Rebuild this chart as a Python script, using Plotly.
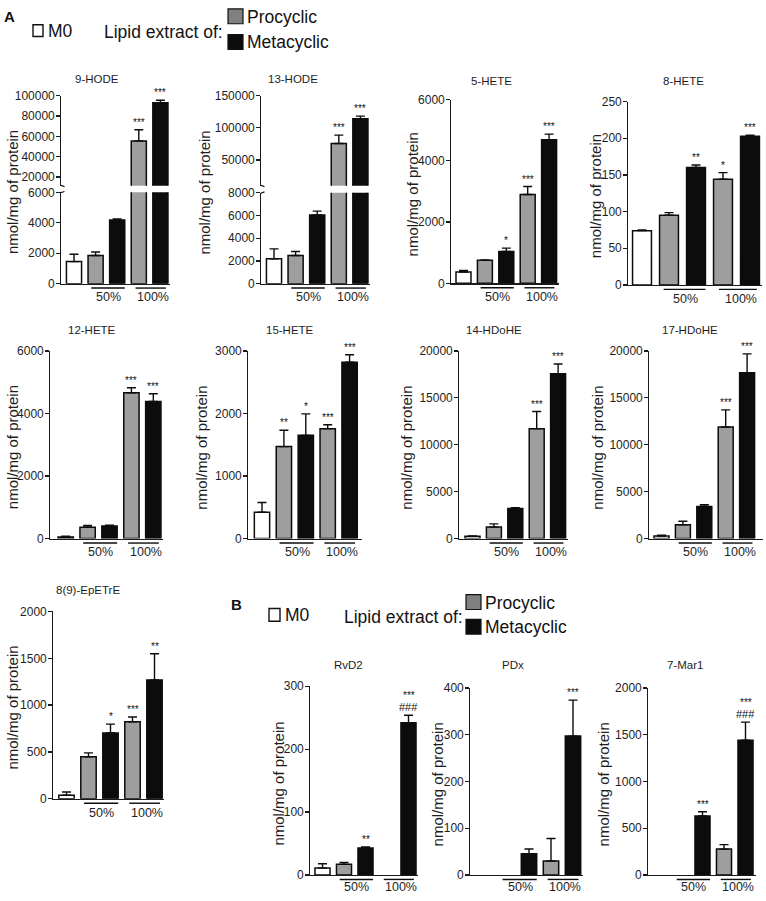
import plotly.graph_objects as go

W, H = 766, 901
FONT = "Liberation Sans, Arial, sans-serif"

# ---------------- data ----------------
categories = ["M0", "Procyclic 50%", "Metacyclic 50%", "Procyclic 100%", "Metacyclic 100%"]
bar_colors = ["white", "#9e9e9e", "#0c0c0c", "#9e9e9e", "#0c0c0c"]
group_labels = ["50%", "100%"]
y_title = "nmol/mg of protein"

hode9_mean = [1450, 1850, 4180, 55500, 93000]
hode9_err = [480, 230, 70, 11000, 2500]
hode9_sig = ["", "", "", "***", "***"]

hode13_mean = [2190, 2480, 6050, 75500, 114000]
hode13_err = [870, 350, 330, 13000, 4000]
hode13_sig = ["", "", "", "***", "***"]

hete5_mean = [370, 750, 1040, 2900, 4690]
hete5_err = [50, 10, 110, 260, 180]
hete5_sig = ["", "", "*", "***", "***"]

hete8_mean = [74, 95, 160, 144, 202.5]
hete8_err = [0.8, 3.5, 3.5, 9, 1.5]
hete8_sig = ["", "", "**", "*", "***"]

hete12_mean = [50, 366, 400, 4660, 4380]
hete12_err = [25, 55, 25, 160, 250]
hete12_sig = ["", "", "", "***", "***"]

hete15_mean = [420, 1470, 1650, 1757, 2817]
hete15_err = [157, 262, 343, 63, 120]
hete15_sig = ["", "**", "*", "***", "***"]

hdohe14_mean = [245, 1224, 3217, 11715, 17555]
hdohe14_err = [35, 350, 70, 1820, 1050]
hdohe14_sig = ["", "", "", "***", "***"]

hdohe17_mean = [280, 1469, 3427, 11890, 17660]
hdohe17_err = [70, 384, 175, 1820, 2025]
hdohe17_sig = ["", "", "", "***", "***"]

epetre_mean = [38, 448, 703, 822, 1269]
epetre_err = [35, 42, 94, 52, 280]
epetre_sig = ["", "", "*", "***", "**"]

rvd2_mean = [11, 17, 43, None, 242]
rvd2_err = [7, 3, 1.5, None, 12]
rvd2_sig = ["", "", "**", "", "***"]
rvd2_sig2 = ["", "", "", "", "###"]

pdx_mean = [None, None, 45.6, 30, 297]
pdx_err = [None, None, 10, 48, 77]
pdx_sig = ["", "", "", "", "***"]
pdx_sig2 = ["", "", "", "", ""]

mar1_mean = [None, None, 632, 277, 1440]
mar1_err = [None, None, 45, 48, 195]
mar1_sig = ["", "", "***", "", "***"]
mar1_sig2 = ["", "", "", "", "###"]

# ---------------- geometry (pixels) ----------------
def PX(x):
    return x / W


def PY(y):
    return 1 - y / H


panels = [
    dict(name="9-HODE", mean=hode9_mean, err=hode9_err, sig=hode9_sig,
         ax=61, c0=74, sp=21.6, right=170, ybot=281, ytop=188.3, ymax=6000,
         ticks=[0, 2000, 4000, 6000],
         brk=dict(bot=181.5, top=90, lo=11490, hi=100000, ticks=[20000, 40000, 60000, 80000, 100000]),
         tx=97, ty=73, ytx=12.5),
    dict(name="13-HODE", mean=hode13_mean, err=hode13_err, sig=hode13_sig,
         ax=261, c0=274, sp=21.6, right=370, ybot=281, ytop=188.7, ymax=8000,
         ticks=[0, 2000, 4000, 6000, 8000],
         brk=dict(bot=181.5, top=90, lo=9900, hi=150000, ticks=[50000, 100000, 150000]),
         tx=293, ty=73, ytx=205),
    dict(name="5-HETE", mean=hete5_mean, err=hete5_err, sig=hete5_sig,
         ax=451, c0=463.5, sp=21.4, right=559, ybot=280.7, ytop=94, ymax=6000,
         ticks=[0, 2000, 4000, 6000], tx=491, ty=75, ytx=412),
    dict(name="8-HETE", mean=hete8_mean, err=hete8_err, sig=hete8_sig,
         ax=628, c0=642, sp=27, right=762, ybot=282.3, ytop=96, ymax=250,
         ticks=[0, 50, 100, 150, 200, 250], tx=683, ty=75, ytx=595),
    dict(name="12-HETE", mean=hete12_mean, err=hete12_err, sig=hete12_sig,
         ax=50, c0=65.7, sp=21.9, right=163, ybot=540, ytop=349.3, ymax=6000,
         ticks=[0, 2000, 4000, 6000], tx=92, ty=328, ytx=12.5),
    dict(name="15-HETE", mean=hete15_mean, err=hete15_err, sig=hete15_sig,
         ax=248, c0=262, sp=21.9, right=362, ybot=540, ytop=349.3, ymax=3000,
         ticks=[0, 1000, 2000, 3000], tx=290, ty=328, ytx=202),
    dict(name="14-HDoHE", mean=hdohe14_mean, err=hdohe14_err, sig=hdohe14_sig,
         ax=459, c0=472.5, sp=21.4, right=568, ybot=540, ytop=349.3, ymax=20000,
         ticks=[0, 5000, 10000, 15000, 20000], tx=494, ty=328, ytx=407),
    dict(name="17-HDoHE", mean=hdohe17_mean, err=hdohe17_err, sig=hdohe17_sig,
         ax=649, c0=661.5, sp=21.4, right=763, ybot=540, ytop=349.3, ymax=20000,
         ticks=[0, 5000, 10000, 15000, 20000], tx=690, ty=328, ytx=598),
    dict(name="8(9)-EpETrE", mean=epetre_mean, err=epetre_err, sig=epetre_sig,
         ax=53, c0=66.5, sp=22, right=164, ybot=804.3, ytop=614, ymax=2000,
         ticks=[0, 500, 1000, 1500, 2000], tx=88, ty=592, ytx=12.5),
    dict(name="RvD2", mean=rvd2_mean, err=rvd2_err, sig=rvd2_sig, sig2=rvd2_sig2,
         ax=310, c0=322.5, sp=21.5, right=418, ybot=881.7, ytop=690, ymax=300,
         ticks=[0, 100, 200, 300], tx=348, ty=668, ytx=279),
    dict(name="PDx", mean=pdx_mean, err=pdx_err, sig=pdx_sig, sig2=pdx_sig2,
         ax=470, c0=485, sp=22, right=583, ybot=881.7, ytop=691.7, ymax=400,
         ticks=[0, 100, 200, 300, 400], tx=513, ty=668, ytx=437),
    dict(name="7-Mar1", mean=mar1_mean, err=mar1_err, sig=mar1_sig, sig2=mar1_sig2,
         ax=648, c0=659.5, sp=21.5, right=756, ybot=881.7, ytop=691.7, ymax=2000,
         ticks=[0, 500, 1000, 1500, 2000], tx=685, ty=668, ytx=603),
]

fig = go.Figure()
layout = dict(width=W, height=H, margin=dict(l=0, r=0, t=0, b=0),
              paper_bgcolor="white", plot_bgcolor="rgba(0,0,0,0)",
              showlegend=False, font=dict(family=FONT, color="#1a1a1a"),
              bargap=0)
annotations = []
shapes = []

AXCOL = "#1a1a1a"
TXT = "#1e1e1e"
yaxis_common = dict(showline=True, linecolor=AXCOL, linewidth=1.3, ticks="outside",
                    ticklen=3.5, tickwidth=1.3, tickcolor=AXCOL, showgrid=False,
                    zeroline=False, tickfont=dict(size=12, family=FONT, color=TXT),
                    ticklabelstandoff=-1, fixedrange=True)

axis_n = 0


def new_id():
    global axis_n
    axis_n += 1
    return axis_n


def name_of(prefix, n):
    return prefix + ("" if n == 1 else str(n))


xs = list(range(len(categories)))

for p in panels:
    xn = new_id()
    yn = xn
    lo = -(p["c0"] - p["ax"]) / p["sp"]
    hi = (p["right"] - p["c0"]) / p["sp"]
    xid, yid = name_of("x", xn), name_of("y", yn)
    layout[name_of("xaxis", xn)] = dict(domain=[PX(p["ax"]), PX(p["right"])], range=[lo, hi],
                                        anchor=yid, showline=True, linecolor=AXCOL, linewidth=1.3,
                                        showticklabels=False, ticks="", showgrid=False,
                                        zeroline=False, fixedrange=True)
    layout[name_of("yaxis", yn)] = dict(yaxis_common, domain=[PY(p["ybot"]), PY(p["ytop"])],
                                        range=[0, p["ymax"]], anchor=xid,
                                        tickvals=p["ticks"], ticktext=[str(t) for t in p["ticks"]])
    yaxes = [(yid, p["ymax"])]
    if "brk" in p:
        b = p["brk"]
        yn2 = new_id()
        yid2 = name_of("y", yn2)
        layout[name_of("yaxis", yn2)] = dict(yaxis_common, domain=[PY(b["bot"]), PY(b["top"])],
                                             range=[b["lo"], b["hi"]], anchor=xid,
                                             tickvals=b["ticks"], ticktext=[str(t) for t in b["ticks"]])
        yaxes.append((yid2, b["hi"]))
        # small break stubs on the axis
        for yy in (b["bot"] - 0.3, p["ytop"] + 0.3):
            shapes.append(dict(type="line", xref="paper", yref="paper",
                               x0=PX(p["ax"]), x1=PX(p["ax"] + 3.5),
                               y0=PY(yy), y1=PY(yy + (1.2 if yy < p["ytop"] else -1.2)),
                               line=dict(color=AXCOL, width=1.2)))
    for (ya, _) in yaxes:
        fig.add_trace(go.Bar(
            x=xs, y=p["mean"], xaxis=xid, yaxis=ya, width=0.7,
            marker=dict(color=bar_colors, line=dict(color="#0c0c0c", width=1.5)),
            error_y=dict(type="data", symmetric=False, array=p["err"],
                         arrayminus=[0 if v is not None else None for v in p["err"]],
                         color="#0c0c0c", thickness=1.4, width=4.5),
            hoverinfo="skip"))
    # panel title
    annotations.append(dict(text=p["name"], x=PX(p["tx"]), y=PY(p["ty"]), xref="paper", yref="paper",
                            showarrow=False, xanchor="center", yanchor="middle",
                            font=dict(size=11.5, family=FONT, color=TXT)))
    # y title
    ytop_all = p["brk"]["top"] if "brk" in p else p["ytop"]
    annotations.append(dict(text=y_title, x=PX(p["ytx"]), y=PY((p["ybot"] + ytop_all) / 2 + 3),
                            xref="paper", yref="paper", showarrow=False, textangle=-90,
                            xanchor="center", yanchor="middle",
                            font=dict(size=15, family=FONT, color=TXT)))
    # group underlines and labels
    lab_dy = 12 if p["ybot"] > 850 else 14
    for (x0, x1, xl, lab) in [(0.8, 2.35, 1.6, group_labels[0]), (2.85, 4.25, 3.65, group_labels[1])]:
        shapes.append(dict(type="line", xref=xid, yref="paper", x0=x0, x1=x1,
                           y0=PY(p["ybot"] + 4.5), y1=PY(p["ybot"] + 4.5),
                           line=dict(color="#0c0c0c", width=1.4)))
        annotations.append(dict(text=lab, x=xl, y=PY(p["ybot"] + lab_dy), xref=xid, yref="paper",
                                showarrow=False, xanchor="center", yanchor="middle",
                                font=dict(size=12.5, family=FONT, color=TXT)))
    # significance marks
    for i in xs:
        s = p["sig"][i]
        s2 = p.get("sig2", [""] * 5)[i]
        if not s and not s2:
            continue
        top = p["mean"][i] + p["err"][i]
        ya = yaxes[0][0]
        if len(yaxes) > 1 and top > p["ymax"]:
            ya = yaxes[1][0]
        shift = 0
        if s2:
            annotations.append(dict(text=s2, x=i, y=top, xref=xid, yref=ya, showarrow=False,
                                    xanchor="center", yanchor="bottom", yshift=0,
                                    font=dict(size=11, family=FONT, color="#111")))
            shift = 12.5
        if s:
            annotations.append(dict(text=s, x=i, y=top, xref=xid, yref=ya, showarrow=False,
                                    xanchor="center", yanchor="bottom", yshift=shift,
                                    font=dict(size=10, family=FONT, color="#111")))

# ---------------- legends ----------------
def legend(lx, ly, lab_x, lip_x, gb_x, gb_y, bb_y, pro_y, met_y, m0_box, m0_y, lip_y, letter):
    annotations.append(dict(text="<b>%s</b>" % letter, x=PX(lx), y=PY(ly), xref="paper", yref="paper",
                            showarrow=False, xanchor="left", yanchor="middle",
                            font=dict(size=15, family=FONT, color="#111")))
    shapes.append(dict(type="rect", xref="paper", yref="paper",
                       x0=PX(m0_box[0]), x1=PX(m0_box[1]), y0=PY(m0_box[2]), y1=PY(m0_box[3]),
                       line=dict(color="#111", width=1.4), fillcolor="white"))
    annotations.append(dict(text="M0", x=PX(lab_x), y=PY(m0_y), xref="paper", yref="paper",
                            showarrow=False, xanchor="left", yanchor="middle",
                            font=dict(size=17.5, family=FONT, color="#111")))
    annotations.append(dict(text="Lipid extract of:", x=PX(lip_x), y=PY(lip_y), xref="paper", yref="paper",
                            showarrow=False, xanchor="left", yanchor="middle",
                            font=dict(size=17.5, family=FONT, color="#111")))
    shapes.append(dict(type="rect", xref="paper", yref="paper",
                       x0=PX(gb_x), x1=PX(gb_x + 15), y0=PY(gb_y), y1=PY(gb_y + 15),
                       line=dict(color="#111", width=1.2), fillcolor="#808080"))
    shapes.append(dict(type="rect", xref="paper", yref="paper",
                       x0=PX(gb_x), x1=PX(gb_x + 15), y0=PY(bb_y), y1=PY(bb_y + 15),
                       line=dict(color="#111", width=1.2), fillcolor="#0c0c0c"))
    annotations.append(dict(text="Procyclic", x=PX(gb_x + 17), y=PY(pro_y), xref="paper", yref="paper",
                            showarrow=False, xanchor="left", yanchor="middle",
                            font=dict(size=17.5, family=FONT, color="#111")))
    annotations.append(dict(text="Metacyclic", x=PX(gb_x + 17), y=PY(met_y), xref="paper", yref="paper",
                            showarrow=False, xanchor="left", yanchor="middle",
                            font=dict(size=17.5, family=FONT, color="#111")))


legend(lx=2, ly=10, lab_x=46, lip_x=102, gb_x=228, gb_y=2, bb_y=28,
       pro_y=10, met_y=36, m0_box=(33, 43, 18, 30), m0_y=24, lip_y=25, letter="A")
legend(lx=229, ly=607, lab_x=283, lip_x=342, gb_x=466, gb_y=597, bb_y=622,
       pro_y=605, met_y=630, m0_box=(269, 280, 611, 624), m0_y=618, lip_y=620, letter="B")

layout["annotations"] = annotations
layout["shapes"] = shapes
fig.update_layout(**layout)
fig.write_html("out.html", config={"displayModeBar": False, "staticPlot": True},
               post_script="document.body.style.margin='0';document.body.style.overflow='hidden';")
